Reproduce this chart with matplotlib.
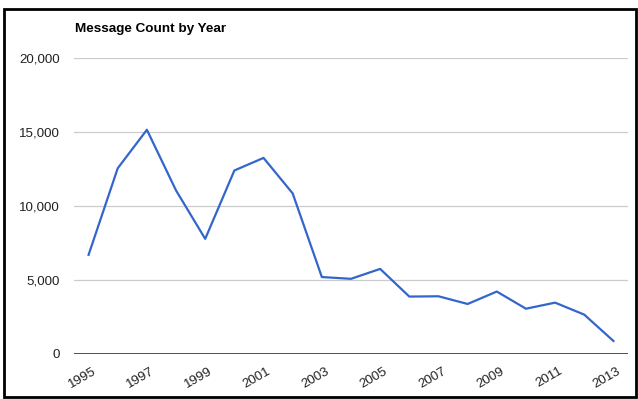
import matplotlib
matplotlib.use('Agg')
from matplotlib import pyplot as plt
from matplotlib import ticker as mticker
from matplotlib import transforms as mtransforms
from matplotlib.patches import Rectangle

plt.rcParams['font.family'] = ['Liberation Sans', 'DejaVu Sans']

# 数据
years = list(range(1995, 2014))
counts = [6700, 12550, 15150, 11050, 7780, 12400, 13250, 10850, 5200, 5080,
          5750, 3880, 3900, 3380, 4220, 3060, 3470, 2660, 880]
y_ticks = [0, 5000, 10000, 15000, 20000]
x_ticks = list(range(1995, 2014, 2))

fig = plt.figure(figsize=(6.38, 3.99), dpi=100, facecolor='white')
ax = fig.add_axes([74/638, 1-354/399, (628-74)/638, (354-58)/399])

ax.plot(years, counts, color='#3366cc', linewidth=1.6)

ax.set_xlim(1994.5, 2013.5)
ax.set_ylim(0, 20000)
ax.set_yticks(y_ticks)
ax.yaxis.set_major_formatter(mticker.FuncFormatter(lambda v, p: '{:,}'.format(int(v))))
ax.set_xticks(x_ticks)
ax.set_xticklabels([str(y) for y in x_ticks], rotation=30, ha='right', rotation_mode='anchor')

ax.grid(True, axis='y', color='#cccccc', linewidth=0.9)
ax.axhline(0, color='#333333', linewidth=1.2)
for s in ax.spines.values():
    s.set_visible(False)
ax.tick_params(axis='both', length=0, labelsize=9.6, colors='#222222')
ax.tick_params(axis='y', pad=10)
ax.tick_params(axis='x', pad=8)

# x轴标签右移一点
offset = mtransforms.ScaledTranslation(3.5/100, 0, fig.dpi_scale_trans)
for lab in ax.get_xticklabels():
    lab.set_transform(lab.get_transform() + offset)

fig.text(75/638, 1-29/399, 'Message Count by Year', fontsize=9.7, fontweight='bold',
         color='black', va='center', ha='left')

# 外边框
fig.patches.append(Rectangle((4/638, 2/399), 632/638, 388/399, transform=fig.transFigure,
                             fill=False, edgecolor='black', linewidth=2))

fig.savefig('out.png', dpi=100)
